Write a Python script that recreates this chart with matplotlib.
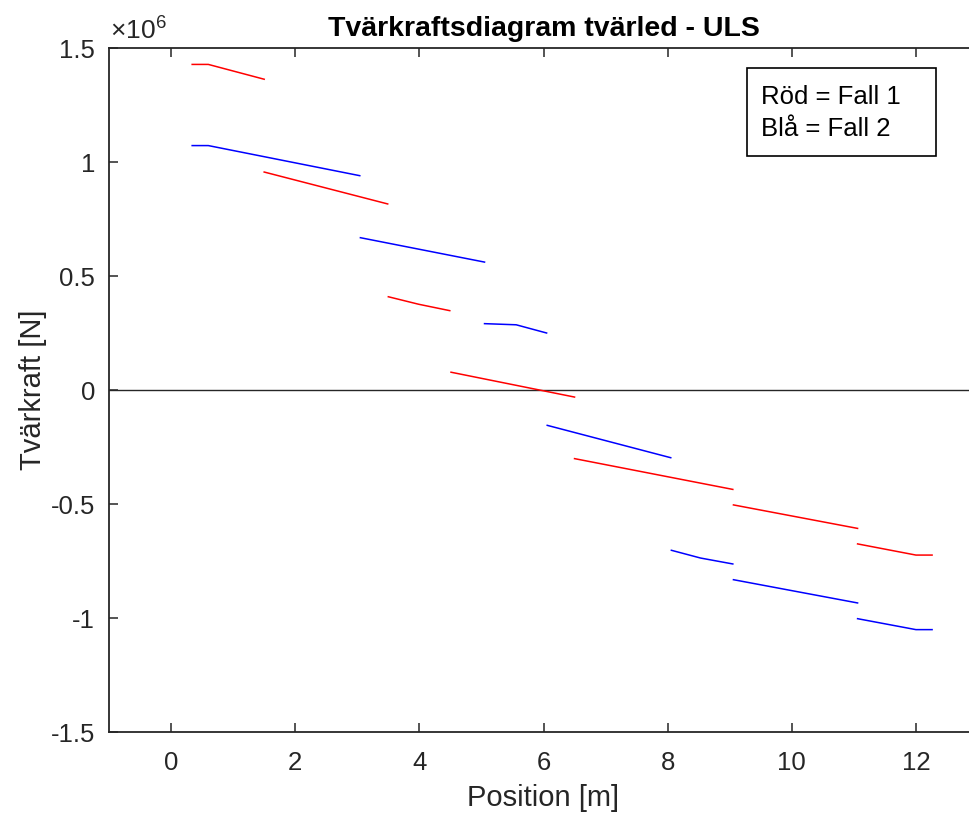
import matplotlib.pyplot as plt
from matplotlib.patches import Rectangle
import matplotlib.ticker as mtick

plt.rcParams['font.family'] = ['Liberation Sans', 'DejaVu Sans']
plt.rcParams['mathtext.fontset'] = 'custom'
plt.rcParams['mathtext.rm'] = 'Liberation Sans'

# Fall 1 (röd) - segment per fält
red_x = [[0.34, 0.60, 1.50],
         [1.50, 3.49],
         [3.50, 3.99, 4.49],
         [4.51, 6.50],
         [6.50, 9.05],
         [9.06, 11.06],
         [11.06, 12.00, 12.26]]
red_y = [[1.428e6, 1.428e6, 1.363e6],
         [0.956e6, 0.816e6],
         [0.409e6, 0.376e6, 0.348e6],
         [0.078e6, -0.031e6],
         [-0.301e6, -0.436e6],
         [-0.504e6, -0.607e6],
         [-0.675e6, -0.724e6, -0.724e6]]

# Fall 2 (blå)
blue_x = [[0.34, 0.60, 3.04],
          [3.05, 5.05],
          [5.05, 5.56, 6.05],
          [6.06, 8.05],
          [8.06, 8.53, 9.05],
          [9.06, 11.06],
          [11.06, 12.00, 12.26]]
blue_y = [[1.072e6, 1.072e6, 0.940e6],
          [0.668e6, 0.561e6],
          [0.291e6, 0.286e6, 0.250e6],
          [-0.155e6, -0.297e6],
          [-0.703e6, -0.737e6, -0.763e6],
          [-0.832e6, -0.934e6],
          [-1.003e6, -1.051e6, -1.051e6]]

xticks = [0, 2, 4, 6, 8, 10, 12]
yticks = [-1.5e6, -1e6, -0.5e6, 0, 0.5e6, 1e6, 1.5e6]

fig = plt.figure(figsize=(9.69, 8.19), dpi=100)
ax = fig.add_axes([109 / 969, 87 / 819, 869 / 969, 684 / 819])

ax.axhline(0, color='#262626', lw=1.0)
for xs, ys in zip(red_x, red_y):
    ax.plot(xs, ys, '-', color='r', lw=1.1)
for xs, ys in zip(blue_x, blue_y):
    ax.plot(xs, ys, '-', color='b', lw=1.1)

ax.set_xlim(-1, 13)
ax.set_ylim(-1.5e6, 1.5e6)
ax.set_xticks(xticks)
ax.set_yticks(yticks)
ax.yaxis.set_major_formatter(mtick.FuncFormatter(lambda v, p: '%g' % (v / 1e6)))
ax.tick_params(direction='in', length=6.5, width=1.1, colors='#262626',
               labelsize=18.5, top=True, right=True)
ax.tick_params(axis='x', pad=14)
ax.tick_params(axis='y', pad=10)
for s in ax.spines.values():
    s.set_color('#262626')
    s.set_linewidth(1.3)

ax.set_title('Tvärkraftsdiagram tvärled - ULS', fontsize=20.5, fontweight='bold', pad=9)
ax.set_xlabel('Position [m]', fontsize=21, color='#262626', labelpad=6)
ax.set_ylabel('Tvärkraft [N]', fontsize=21, color='#262626', labelpad=3)
fig.text(110 / 969, 1 - 30 / 819, r'$\times10^{6}$', fontsize=19, color='#262626',
         va='center', ha='left')

# textruta (annotation)
fig.patches.append(Rectangle((747 / 969, 1 - 156 / 819), 189 / 969, 88 / 819,
                             transform=fig.transFigure, fill=False,
                             edgecolor='k', lw=1.2))
fig.text(761 / 969, 1 - 97 / 819, 'Röd = Fall 1', fontsize=18.5, va='center', ha='left')
fig.text(761 / 969, 1 - 129 / 819, 'Blå = Fall 2', fontsize=18.5, va='center', ha='left')

fig.savefig('out.png', dpi=100)
